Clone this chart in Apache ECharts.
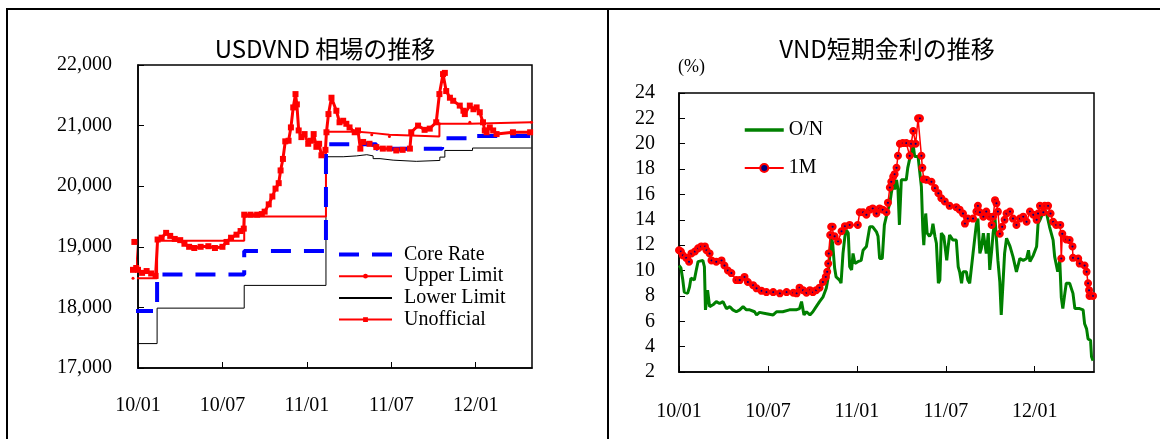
<!DOCTYPE html>
<html>
<head>
<meta charset="utf-8">
<script src="https://cdn.jsdelivr.net/npm/echarts@6/dist/echarts.min.js"></script>
<style>
  html, body { margin: 0; padding: 0; background: #fff; }
  #chart { width: 1160px; height: 439px; }
</style>
</head>
<body>
<div id="chart"></div>
<script>
// ---- USD/VND exchange rate (band regime) ----
const coreRate = [
  ['2009-12-21', 17941], ['2010-02-11', 18544], ['2010-08-18', 18932], ['2011-02-11', 20693],
  ['2011-05-30', 20620], ['2011-10-20', 20790], ['2011-12-25', 20828], ['2012-04-30', 20828]
];
const upperLimit = [
  ['2009-12-21', 18479], ['2010-02-11', 19100], ['2010-08-18', 19500], ['2011-02-11', 20900],
  ['2011-04-20', 20880], ['2011-05-20', 20850], ['2011-06-27', 20820], ['2011-10-14', 21030],
  ['2011-12-19', 21055], ['2012-04-30', 21055]
];
const lowerLimit = [
  ['2009-12-21', 17403], ['2010-02-11', 17988], ['2010-08-18', 18363], ['2011-02-11', 20486],
  ['2011-03-19', 20500], ['2011-04-17', 20520], ['2011-05-09', 20500], ['2011-05-23', 20455],
  ['2011-06-07', 20430], ['2011-07-05', 20410], ['2011-08-25', 20425], ['2011-10-15', 20480],
  ['2011-10-26', 20590], ['2011-12-25', 20630], ['2012-04-30', 20630]
];
const unofficial = [
  ['2009-12-21', 18620], ['2009-12-24', 19080], ['2009-12-28', 18650], ['2010-01-01', 18620],
  ['2010-01-10', 18570], ['2010-01-20', 18600], ['2010-01-30', 18560], ['2010-02-08', 18520],
  ['2010-02-12', 19120], ['2010-02-20', 19150], ['2010-03-01', 19230], ['2010-03-10', 19180],
  ['2010-03-20', 19130], ['2010-04-01', 19110], ['2010-04-10', 19050], ['2010-04-20', 19000],
  ['2010-05-01', 18980], ['2010-05-15', 19000], ['2010-06-01', 19010], ['2010-06-15', 18980],
  ['2010-07-01', 19000], ['2010-07-10', 19080], ['2010-07-20', 19150], ['2010-08-01', 19200],
  ['2010-08-10', 19260], ['2010-08-17', 19300], ['2010-08-18', 19530], ['2010-09-01', 19530],
  ['2010-09-15', 19530], ['2010-09-25', 19540], ['2010-10-01', 19580], ['2010-10-10', 19700],
  ['2010-10-18', 19830], ['2010-10-25', 19960], ['2010-11-01', 20050], ['2010-11-05', 20260],
  ['2010-11-10', 20450], ['2010-11-15', 20740], ['2010-11-22', 20750], ['2010-11-27', 20970],
  ['2010-12-02', 21300], ['2010-12-07', 21520], ['2010-12-10', 21350], ['2010-12-14', 20920],
  ['2010-12-20', 20810], ['2010-12-27', 20860], ['2011-01-04', 20700], ['2011-01-10', 20750],
  ['2011-01-16', 20860], ['2011-01-22', 20650], ['2011-01-28', 20700], ['2011-02-02', 20510],
  ['2011-02-10', 20600], ['2011-02-12', 20890], ['2011-02-16', 21190], ['2011-02-22', 21460],
  ['2011-03-04', 21245], ['2011-03-11', 21055], ['2011-03-19', 21080], ['2011-03-26', 21030],
  ['2011-04-02', 20970], ['2011-04-13', 20890], ['2011-04-20', 20920], ['2011-04-25', 20620],
  ['2011-05-01', 20730], ['2011-05-15', 20700], ['2011-05-30', 20645], ['2011-06-13', 20620],
  ['2011-06-27', 20620], ['2011-07-12', 20590], ['2011-07-26', 20600], ['2011-08-11', 20620],
  ['2011-08-14', 20890], ['2011-08-29', 21000], ['2011-09-12', 20930], ['2011-09-23', 20950],
  ['2011-10-07', 21055], ['2011-10-14', 21520], ['2011-10-22', 21850], ['2011-10-26', 21870],
  ['2011-10-29', 21570], ['2011-11-06', 21460], ['2011-11-13', 21410], ['2011-11-27', 21330],
  ['2011-12-05', 21245], ['2011-12-08', 21190], ['2011-12-19', 21330], ['2011-12-27', 21270],
  ['2012-01-03', 21300], ['2012-01-10', 21220], ['2012-01-17', 21055], ['2012-01-21', 20920],
  ['2012-01-25', 20890], ['2012-02-01', 20970], ['2012-02-08', 20920], ['2012-02-15', 20860],
  ['2012-03-21', 20890], ['2012-04-27', 20890]
];

// ---- VND short-term interest rates (%) ----
const overnight = [
  ['2010-01-01', 10.4], ['2010-01-05', 10.2], ['2010-01-09', 9.25], ['2010-01-12', 8.3],
  ['2010-01-19', 8.2], ['2010-01-23', 8.7], ['2010-01-26', 9.4], ['2010-01-30', 9.5],
  ['2010-02-02', 9.25], ['2010-02-05', 9.9], ['2010-02-09', 10.7], ['2010-02-12', 10.8],
  ['2010-02-18', 10.8], ['2010-02-21', 10.3], ['2010-02-23', 6.9], ['2010-02-26', 7.9],
  ['2010-02-27', 8.45], ['2010-03-03', 7.15], ['2010-03-10', 7.3], ['2010-03-17', 7.55],
  ['2010-03-24', 7.4], ['2010-03-31', 7.55], ['2010-04-07', 7.0], ['2010-04-14', 7.15],
  ['2010-04-20', 6.9], ['2010-04-27', 6.75], ['2010-05-04', 6.9], ['2010-05-11', 7.15],
  ['2010-05-18', 6.9], ['2010-05-25', 6.9], ['2010-06-04', 6.75], ['2010-06-08', 6.5],
  ['2010-06-14', 6.7], ['2010-06-28', 6.6], ['2010-07-12', 6.5], ['2010-07-19', 6.75],
  ['2010-08-01', 6.75], ['2010-08-15', 6.9], ['2010-08-29', 6.9], ['2010-09-05', 7.0],
  ['2010-09-09', 7.55], ['2010-09-12', 7.55], ['2010-09-14', 6.5], ['2010-09-19', 6.75],
  ['2010-09-26', 6.5], ['2010-10-02', 6.75], ['2010-10-09', 7.15], ['2010-10-16', 7.55],
  ['2010-10-23', 7.9], ['2010-10-30', 8.6], ['2010-11-02', 9.25], ['2010-11-06', 11.1],
  ['2010-11-09', 12.7], ['2010-11-12', 12.15], ['2010-11-16', 10.2], ['2010-11-19', 9.5],
  ['2010-11-26', 9.25], ['2010-11-29', 9.0], ['2010-12-03', 11.35], ['2010-12-07', 12.7],
  ['2010-12-10', 13.2], ['2010-12-14', 12.95], ['2010-12-17', 10.3], ['2010-12-21', 10.05],
  ['2010-12-24', 11.35], ['2010-12-28', 10.55], ['2011-01-03', 10.7], ['2011-01-10', 10.8],
  ['2011-01-14', 11.6], ['2011-01-21', 11.9], ['2011-01-28', 13.45], ['2011-02-03', 13.45],
  ['2011-02-10', 13.05], ['2011-02-13', 12.7], ['2011-02-16', 10.95], ['2011-02-21', 10.95],
  ['2011-02-25', 13.6], ['2011-03-04', 14.8], ['2011-03-08', 15.3], ['2011-03-11', 16.1],
  ['2011-03-15', 16.9], ['2011-03-18', 16.4], ['2011-03-22', 17.15], ['2011-03-25', 16.4],
  ['2011-03-28', 13.6], ['2011-04-01', 17.15], ['2011-04-11', 17.15], ['2011-04-14', 18.1],
  ['2011-04-19', 19.0], ['2011-04-25', 19.9], ['2011-04-28', 19.0], ['2011-05-05', 19.0],
  ['2011-05-09', 18.85], ['2011-05-12', 16.6], ['2011-05-15', 13.2], ['2011-05-17', 12.0],
  ['2011-05-21', 14.5], ['2011-05-24', 12.95], ['2011-05-29', 12.7], ['2011-06-02', 12.95],
  ['2011-06-05', 13.7], ['2011-06-09', 12.7], ['2011-06-12', 12.15], ['2011-06-16', 9.0],
  ['2011-06-19', 9.25], ['2011-06-22', 12.95], ['2011-06-27', 12.7], ['2011-07-03', 10.8],
  ['2011-07-06', 11.9], ['2011-07-09', 12.8], ['2011-07-13', 12.95], ['2011-07-16', 12.4],
  ['2011-07-23', 12.4], ['2011-07-27', 10.3], ['2011-07-30', 9.9], ['2011-08-03', 9.0],
  ['2011-08-06', 9.9], ['2011-08-13', 9.9], ['2011-08-16', 9.25], ['2011-08-20', 9.0],
  ['2011-08-27', 11.35], ['2011-08-30', 11.2], ['2011-09-03', 13.7], ['2011-09-06', 14.1],
  ['2011-09-10', 11.35], ['2011-09-13', 11.75], ['2011-09-17', 12.95], ['2011-09-23', 11.35],
  ['2011-09-27', 12.95], ['2011-09-30', 10.05], ['2011-10-04', 11.6], ['2011-10-07', 12.95],
  ['2011-10-11', 14.1], ['2011-10-14', 14.0], ['2011-10-17', 10.8], ['2011-10-21', 9.1],
  ['2011-10-24', 6.5], ['2011-10-28', 9.25], ['2011-10-31', 11.35], ['2011-11-04', 12.55],
  ['2011-11-11', 11.9], ['2011-11-17', 11.1], ['2011-11-24', 9.9], ['2011-12-01', 10.95],
  ['2011-12-08', 10.8], ['2011-12-15', 10.95], ['2011-12-19', 11.6], ['2011-12-22', 10.7],
  ['2011-12-29', 11.2], ['2012-01-05', 11.9], ['2012-01-08', 13.7], ['2012-01-12', 14.0],
  ['2012-01-19', 14.65], ['2012-01-25', 14.65], ['2012-02-01', 13.45], ['2012-02-08', 12.4],
  ['2012-02-11', 11.1], ['2012-02-17', 9.9], ['2012-02-21', 10.8], ['2012-02-24', 7.9],
  ['2012-02-27', 7.0], ['2012-03-02', 8.2], ['2012-03-05', 9.0], ['2012-03-12', 9.0],
  ['2012-03-19', 8.2], ['2012-03-23', 7.0], ['2012-04-02', 7.0], ['2012-04-09', 6.9],
  ['2012-04-12', 5.8], ['2012-04-16', 5.4], ['2012-04-19', 4.6], ['2012-04-24', 4.5],
  ['2012-04-26', 3.2], ['2012-04-29', 2.9]
];
const oneMonth = [
  ['2010-01-01', 11.6], ['2010-01-05', 11.5], ['2010-01-09', 11.2], ['2010-01-16', 11.0],
  ['2010-01-22', 10.7], ['2010-01-27', 11.35], ['2010-02-03', 11.5], ['2010-02-09', 11.75],
  ['2010-02-15', 11.9], ['2010-02-22', 11.9], ['2010-02-25', 11.6], ['2010-03-03', 11.35],
  ['2010-03-07', 10.8], ['2010-03-17', 10.7], ['2010-03-28', 10.8], ['2010-04-03', 10.4],
  ['2010-04-10', 10.0], ['2010-04-17', 9.8], ['2010-04-27', 9.25], ['2010-05-04', 9.25],
  ['2010-05-14', 9.5], ['2010-05-21', 9.1], ['2010-06-01', 8.85], ['2010-06-08', 8.6],
  ['2010-06-18', 8.4], ['2010-06-28', 8.3], ['2010-07-12', 8.3], ['2010-07-26', 8.2],
  ['2010-08-09', 8.3], ['2010-08-23', 8.25], ['2010-08-30', 8.2], ['2010-09-05', 8.65],
  ['2010-09-12', 8.45], ['2010-09-19', 8.25], ['2010-09-26', 8.45], ['2010-10-02', 8.3],
  ['2010-10-09', 8.45], ['2010-10-16', 8.65], ['2010-10-23', 9.1], ['2010-10-29', 9.5],
  ['2010-11-01', 9.9], ['2010-11-03', 10.55], ['2010-11-04', 11.35], ['2010-11-07', 12.8],
  ['2010-11-09', 13.45], ['2010-11-12', 13.45], ['2010-11-16', 12.7], ['2010-11-23', 12.3],
  ['2010-11-30', 13.1], ['2010-12-07', 13.5], ['2010-12-17', 13.6], ['2011-01-03', 13.6],
  ['2011-01-07', 14.6], ['2011-01-14', 14.6], ['2011-01-21', 14.4], ['2011-01-28', 14.8],
  ['2011-02-03', 14.9], ['2011-02-10', 14.5], ['2011-02-16', 14.9], ['2011-02-22', 14.8],
  ['2011-03-01', 14.6], ['2011-03-04', 15.35], ['2011-03-08', 16.55], ['2011-03-11', 17.0],
  ['2011-03-15', 17.4], ['2011-03-18', 17.6], ['2011-03-22', 18.1], ['2011-03-25', 19.05],
  ['2011-03-29', 20.0], ['2011-04-04', 20.05], ['2011-04-11', 20.05], ['2011-04-18', 19.05],
  ['2011-04-21', 20.0], ['2011-04-25', 21.0], ['2011-04-30', 20.0], ['2011-05-05', 22.0],
  ['2011-05-09', 22.0], ['2011-05-12', 19.05], ['2011-05-14', 18.1], ['2011-05-17', 17.2],
  ['2011-05-23', 17.15], ['2011-06-02', 17.0], ['2011-06-09', 16.5], ['2011-06-16', 16.1],
  ['2011-06-22', 15.7], ['2011-06-29', 15.45], ['2011-07-09', 15.1], ['2011-07-23', 15.0],
  ['2011-07-30', 14.8], ['2011-08-06', 14.5], ['2011-08-10', 13.7], ['2011-08-16', 14.1],
  ['2011-08-27', 14.1], ['2011-09-03', 14.65], ['2011-09-06', 15.1], ['2011-09-10', 14.6],
  ['2011-09-17', 14.25], ['2011-09-23', 14.65], ['2011-09-30', 14.25], ['2011-10-04', 13.6],
  ['2011-10-07', 14.25], ['2011-10-11', 15.55], ['2011-10-14', 15.3], ['2011-10-17', 14.65],
  ['2011-10-21', 12.9], ['2011-10-26', 13.45], ['2011-10-31', 14.0], ['2011-11-04', 14.5],
  ['2011-11-11', 14.65], ['2011-11-17', 14.1], ['2011-11-24', 13.6], ['2011-12-01', 14.1],
  ['2011-12-08', 14.25], ['2011-12-15', 13.85], ['2011-12-22', 14.65], ['2011-12-29', 14.4],
  ['2012-01-05', 14.0], ['2012-01-08', 14.5], ['2012-01-12', 15.1], ['2012-01-19', 14.6],
  ['2012-01-22', 15.1], ['2012-01-29', 15.1], ['2012-02-03', 14.5], ['2012-02-08', 13.85],
  ['2012-02-14', 13.6], ['2012-02-22', 13.6], ['2012-02-24', 10.95], ['2012-02-26', 12.9],
  ['2012-03-05', 12.45], ['2012-03-12', 12.4], ['2012-03-18', 11.9], ['2012-03-19', 11.0],
  ['2012-03-30', 10.95], ['2012-04-02', 10.55], ['2012-04-12', 10.4], ['2012-04-16', 9.9],
  ['2012-04-19', 9.0], ['2012-04-21', 8.45], ['2012-04-22', 8.0], ['2012-04-29', 8.0]
];

// tick labels (yy/mm), every six months from Jan 2010
const monthTickLabels = ['10/01', '10/07', '11/01', '11/07', '12/01'];

// dates become fractional months counted from 2010-01-01
function toMonth(d) {
  const [y, m, dd] = d.split('-').map(Number);
  const dim = new Date(y, m, 0).getDate();
  return (y - 2010) * 12 + (m - 1) + (dd - 1) / dim;
}
const toXY = arr => arr.map(([d, v]) => [toMonth(d), v]);

const serif = 'Liberation Serif';
const cjk = 'Noto Sans CJK JP';

function xAxisFor(gridIndex, margin) {
  return {
    type: 'value', gridIndex, min: 0, max: 28, interval: 6,
    axisLine: { show: true, lineStyle: { color: '#000', width: 1.5 } },
    axisTick: { show: true, inside: true, length: 6, lineStyle: { color: '#000' } },
    splitLine: { show: false },
    axisLabel: {
      margin, color: '#000', fontFamily: serif, fontSize: 20,
      showMaxLabel: false,
      formatter: v => (v % 6 === 0 && monthTickLabels[v / 6]) ? monthTickLabels[v / 6] : ''
    }
  };
}

const chart = echarts.init(document.getElementById('chart'), null, { renderer: 'canvas' });

// legend entries whose series draw no markers keep a plain line icon
const noMarker = { opacity: 0 };

chart.setOption({
  animation: false,
  backgroundColor: '#fff',
  title: [
    { text: 'USDVND 相場の推移', left: 320, top: 32, textAlign: 'center',
      textStyle: { fontFamily: cjk, fontSize: 24, fontWeight: 'normal', color: '#000' } },
    { text: 'VND短期金利の推移', left: 882, top: 32, textAlign: 'center',
      textStyle: { fontFamily: cjk, fontSize: 24, fontWeight: 'normal', color: '#000' } }
  ],
  graphic: [
    { type: 'rect', shape: { x: 7, y: 9, width: 1170, height: 450 },
      style: { fill: 'none', stroke: '#000', lineWidth: 2 }, silent: true },
    { type: 'line', shape: { x1: 608, y1: 9, x2: 608, y2: 440 },
      style: { stroke: '#000', lineWidth: 2 }, silent: true },
    { type: 'text', x: 678, y: 58,
      style: { text: '(%)', fontFamily: serif, fontSize: 18, fill: '#000' } }
  ],
  grid: [
    { left: 138, top: 65, width: 394, height: 303, show: true, borderColor: '#000', borderWidth: 1.5 },
    { left: 679, top: 93, width: 415, height: 279, show: true, borderColor: '#000', borderWidth: 1.5 }
  ],
  xAxis: [xAxisFor(0, 28), xAxisFor(1, 30)],
  yAxis: [
    {
      type: 'value', gridIndex: 0, min: 17000, max: 22000, interval: 1000,
      axisLine: { show: true, lineStyle: { color: '#000', width: 1.5 } },
      axisTick: { show: true, inside: true, length: 6, lineStyle: { color: '#000' } },
      splitLine: { show: false },
      axisLabel: { margin: 26, color: '#000', fontFamily: serif, fontSize: 20,
        formatter: v => v.toLocaleString('en-US') }
    },
    {
      type: 'value', gridIndex: 1, min: 2, max: 24, interval: 2,
      axisLine: { show: true, lineStyle: { color: '#000', width: 1.5 } },
      axisTick: { show: true, inside: true, length: 6, lineStyle: { color: '#000' } },
      splitLine: { show: false },
      axisLabel: { margin: 24, color: '#000', fontFamily: serif, fontSize: 20 }
    }
  ],
  legend: [
    {
      orient: 'vertical', left: 332, top: 239, itemWidth: 53, itemHeight: 6, itemGap: 0.7,
      data: [
        { name: 'Core Rate', itemStyle: noMarker, lineStyle: { width: 4 } },
        { name: 'Upper Limit' },
        { name: 'Lower Limit', itemStyle: noMarker },
        { name: 'Unofficial' }
      ],
      textStyle: { fontFamily: serif, fontSize: 20, lineHeight: 21, color: '#000', padding: [0, 0, 0, 7] },
      selectedMode: false
    },
    {
      orient: 'vertical', left: 738, top: 115, itemWidth: 39, itemHeight: 10, itemGap: 18,
      data: [{ name: 'O/N', itemStyle: noMarker, lineStyle: { width: 3.5 } }, { name: '1M' }],
      textStyle: { fontFamily: serif, fontSize: 20, lineHeight: 20, color: '#000' },
      selectedMode: false
    }
  ],
  series: [
    {
      name: 'Lower Limit', type: 'line', xAxisIndex: 0, yAxisIndex: 0, step: 'end',
      data: toXY(lowerLimit), symbol: 'none', clip: false,
      lineStyle: { color: '#000', width: 1 }, itemStyle: { color: '#000' }
    },
    {
      name: 'Upper Limit', type: 'line', xAxisIndex: 0, yAxisIndex: 0, step: 'end',
      data: toXY(upperLimit), symbol: 'circle', symbolSize: 3, showAllSymbol: true, clip: false,
      lineStyle: { color: '#ff0000', width: 2 }, itemStyle: { color: '#ff0000' }
    },
    {
      name: 'Unofficial', type: 'line', xAxisIndex: 0, yAxisIndex: 0,
      data: toXY(unofficial), symbol: 'rect', symbolSize: 6, showAllSymbol: true, clip: false,
      lineStyle: { color: '#ff0000', width: 3 }, itemStyle: { color: '#ff0000' }
    },
    {
      name: 'Core Rate', type: 'line', xAxisIndex: 0, yAxisIndex: 0, step: 'end',
      data: toXY(coreRate), symbol: 'none', clip: false,
      lineStyle: { color: '#0000ff', width: 4, type: [20, 13] }, itemStyle: { color: '#0000ff' }
    },
    {
      name: 'O/N', type: 'line', xAxisIndex: 1, yAxisIndex: 1,
      data: toXY(overnight), symbol: 'none',
      lineStyle: { color: '#008000', width: 3 }, itemStyle: { color: '#008000' }
    },
    {
      name: '1M', type: 'line', xAxisIndex: 1, yAxisIndex: 1,
      data: toXY(oneMonth), symbol: 'circle', symbolSize: 5, showAllSymbol: true,
      lineStyle: { color: '#ff0000', width: 1.5 },
      itemStyle: { color: '#000080', borderColor: '#ff0000', borderWidth: 3 }
    }
  ]
});
</script>
</body>
</html>
